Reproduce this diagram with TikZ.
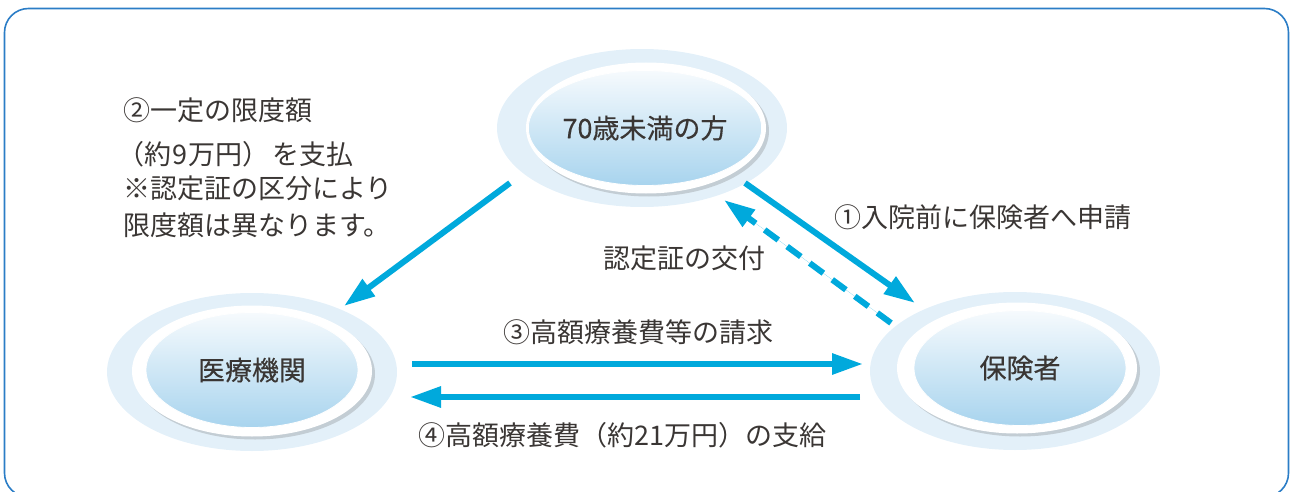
\documentclass[tikz,border=0pt]{standalone}
\usepackage{fontspec}
\setmainfont{Noto Sans CJK JP}
\newfontfamily\nodefont[FakeBold=0.3]{Noto Sans CJK JP}
\usetikzlibrary{arrows.meta,shapes.geometric,shadows,calc}
\definecolor{arrowc}{HTML}{00A9DC}
\definecolor{framec}{HTML}{2B7DC6}
\definecolor{txt}{HTML}{3A3634}
\definecolor{haloc}{HTML}{E3F0F9}
\definecolor{innertop}{HTML}{F6FAFD}
\definecolor{innerbot}{HTML}{A8D4EE}
\tikzset{
  halo/.style={ellipse, fill=haloc, draw=none, minimum width=290pt, minimum height=158pt, inner sep=0pt},
  ring/.style={ellipse, fill=white, draw=none, minimum width=240pt, minimum height=131pt, inner sep=0pt,
    drop shadow={shadow xshift=3pt, shadow yshift=-3pt, opacity=0.25, fill=black!60}},
  inner/.style={ellipse, top color=innertop, bottom color=innerbot, draw=white, line width=0.8pt,
    minimum width=212pt, minimum height=115pt, inner sep=0pt, text=txt, font=\nodefont\fontsize{27pt}{30pt}\selectfont},
  lbl/.style={anchor=west, inner sep=0pt, text=txt, text height=24pt, text depth=3pt, font=\fontsize{27pt}{30pt}\selectfont},
  arr/.style={draw=arrowc, line width=6pt, -{Triangle[length=31pt,width=20pt]}, fill=arrowc},
  darr/.style={arr, dash pattern=on 17pt off 11pt}
}
\begin{document}
\begin{tikzpicture}[x=1pt,y=-1pt]
\useasboundingbox (0,0) rectangle (1293,492);
\begin{scope}
\clip (0,0) rectangle (1293,492);
\draw[framec, line width=1.6pt, rounded corners=24pt] (4.5,8.5) rectangle (1288.5,497);
\end{scope}

% top
\node[halo] (topH) at (642,128) {};
\node[ring] (topR) at (646,128) {};
\node[inner] (top) at (645,128) {70歳未満の方};
% left
\node[halo] (leftH) at (252,372) {};
\node[ring] (leftR) at (252,371) {};
\node[inner] (left) at (252,370) {医療機関};
% right
\node[halo] (rightH) at (1015,371) {};
\node[ring] (rightR) at (1017,368) {};
\node[inner] (right) at (1020,368) {保険者};

% connectors
\coordinate (a1s) at ($(topH)+(-132,55)$);
\coordinate (a1e) at ($(leftH)+(92,-66)$);
\draw[arr] (a1s) -- (a1e);
\coordinate (b1s) at ($(topH)+(103,55)$);
\coordinate (b1e) at ($(rightH)+(-100,-68)$);
\draw[arr] (b1s) -- (b1e);
\coordinate (c1s) at ($(rightH)+(-124,-48)$);
\coordinate (c1e) at ($(topH)+(82,72)$);
\draw[darr] (c1s) -- (c1e);
\coordinate (d1s) at ($(leftH)+(160,-8)$);
\coordinate (d1e) at ($(rightH)+(-152,-7)$);
\draw[arr] (d1s) -- (d1e);
\coordinate (e1s) at ($(rightH)+(-155,26)$);
\coordinate (e1e) at ($(leftH)+(158,25)$);
\draw[arr] (e1s) -- (e1e);

% labels
\node[lbl] (l2a) at (123,110) {②一定の限度額};
\node[lbl] (l2b) at (117,154) {（約\kern1pt 9\kern1pt 万円）\kern3pt を支払};
\node[lbl] (l2c) at (123,188) {※認定証の区分により};
\node[lbl] (l2d) at (123,225) {限度額は異なります。};
\node[lbl] (lcert) at (603,258) {認定証の交付};
\node[lbl] (l1) at (834,217) {①入院前に保険者へ申請};
\node[lbl] (l3) at (503,332) {③高額療養費等の請求};
\node[lbl] (l4) at (418,435) {④高額療養費（約21万円）の支給};
\end{tikzpicture}
\end{document}
